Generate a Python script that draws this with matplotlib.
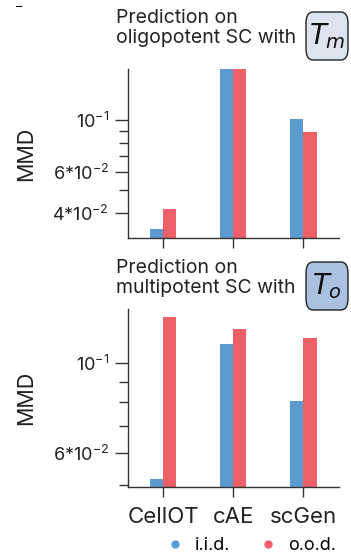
import numpy as np
import matplotlib.pyplot as plt
from matplotlib.patches import FancyBboxPatch
from matplotlib.lines import Line2D

plt.rcParams['font.family'] = ['Inter', 'DejaVu Sans']
plt.rcParams['mathtext.fontset'] = 'custom'
plt.rcParams['mathtext.rm'] = 'Inter'
plt.rcParams['mathtext.it'] = 'DejaVu Sans:italic'

methods = ["CellOT", "cAE", "scGen"]
iid_top = [0.0342, 0.168, 0.101]
ood_top = [0.0417, 0.166, 0.0888]
iid_bot = [0.0517, 0.1114, 0.0805]
ood_bot = [0.1302, 0.1214, 0.1151]

blue = '#5b9bd0'
red = '#ef5f68'
dark = '#333333'

fig = plt.figure(figsize=(3.51, 5.59), dpi=100)
W, H = 351, 559


def px_axes(x0, y0, x1, y1):
    return fig.add_axes([x0 / W, 1 - y1 / H, (x1 - x0) / W, (y1 - y0) / H])


ax1 = px_axes(128, 69, 339, 238)
ax2 = px_axes(128, 309, 339, 487)

x = np.arange(len(methods))
w = 0.19
base = 0.01


def draw(ax, iid, ood, ylim, major, major_lbl, minor):
    ax.bar(x - w, np.array(iid) - base, width=w, align='edge', color=blue, bottom=base)
    ax.bar(x, np.array(ood) - base, width=w, align='edge', color=red, bottom=base)
    ax.set_yscale('log')
    ax.set_ylim(*ylim)
    ax.set_xlim(-0.5, 2.51)
    ax.set_yticks(major)
    ax.set_yticklabels(major_lbl)
    ax.set_yticks(minor, minor=True)
    ax.yaxis.set_minor_formatter(plt.NullFormatter())
    ax.set_xticks(x)
    for s in ['top', 'right']:
        ax.spines[s].set_visible(False)
    for s in ['left', 'bottom']:
        ax.spines[s].set_color(dark)
        ax.spines[s].set_linewidth(1.0)
    ax.tick_params(axis='y', which='major', length=9.5, width=1.0, color=dark,
                   labelsize=13, pad=4, labelcolor='#222222')
    ax.tick_params(axis='y', which='minor', length=6.5, width=1.0, color=dark)
    ax.tick_params(axis='x', length=7.5, width=1.0, color=dark, labelsize=16,
                   pad=7, labelcolor='#222222')
    ax.set_ylabel('MMD', fontsize=15.5, color='#222222')
    ax.yaxis.set_label_coords(-0.435, 0.5)


draw(ax1, iid_top, ood_top, (0.0313, 0.165),
     [0.04, 0.06, 0.1], [r'$4{*}10^{-2}$', r'$6{*}10^{-2}$', r'$10^{-1}$'],
     [0.05, 0.07, 0.08, 0.09])
ax1.set_xticklabels([])
draw(ax2, iid_bot, ood_bot, (0.0494, 0.136),
     [0.06, 0.1], [r'$6{*}10^{-2}$', r'$10^{-1}$'],
     [0.05, 0.07, 0.08, 0.09])
ax2.set_xticklabels(methods)

# panel titles with boxed labels
titles = ["Prediction on\noligopotent SC with", "Prediction on\nmultipotent SC with"]
tags = [r'$T_m$', r'$T_o$']
fills = ['#dde4ef', '#a9c0df']
tops = [9, 259]
for t, tag, fc, y0 in zip(titles, tags, fills, tops):
    fig.text(116 / W, 1 - y0 / H, t, ha='left', va='top', fontsize=14,
             linespacing=1.15, color='#222222')
    box = FancyBboxPatch((306 / W, 1 - (y0 + 51) / H), 42 / W, 48 / H,
                         boxstyle='round,pad=0,rounding_size=0.02',
                         transform=fig.transFigure, facecolor=fc,
                         edgecolor='#222222', linewidth=1.0)
    fig.patches.append(box)
    fig.text(327 / W, 1 - (y0 + 27) / H, tag, ha='center', va='center',
             fontsize=20, color='#111111')

fig.text(16 / W, 1 - 7 / H, '–', fontsize=9, ha='left', va='center')

handles = [Line2D([], [], marker='o', ls='', color=blue, markersize=5),
           Line2D([], [], marker='o', ls='', color=red, markersize=5)]
fig.legend(handles, ['i.i.d.', 'o.o.d.'], ncol=2, frameon=False,
           loc='center right', bbox_to_anchor=(343 / W, 1 - 546 / H),
           fontsize=13, handletextpad=0.6, columnspacing=1.6,
           borderaxespad=0, handlelength=1.0)

fig.savefig('out.png', dpi=100)
